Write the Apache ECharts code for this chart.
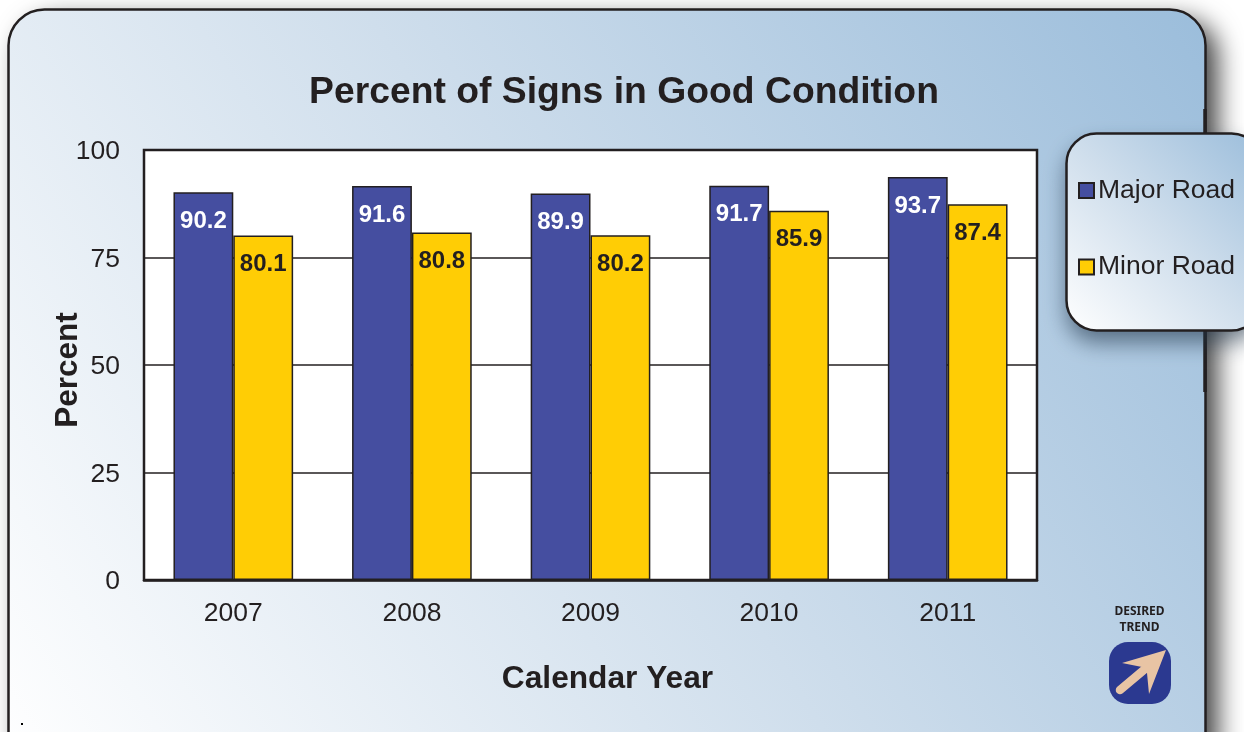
<!DOCTYPE html>
<html><head><meta charset="utf-8">
<style>html,body{margin:0;padding:0;background:#fff;overflow:hidden}#c{width:1244px;height:732px}</style>
<script src="https://cdn.jsdelivr.net/npm/echarts@6/dist/echarts.min.js"></script>
</head><body><div id="c"></div>
<script>
const years = ['2007','2008','2009','2010','2011'];
const majorRoad = [90.2,91.6,89.9,91.7,93.7];
const minorRoad = [80.1,80.8,80.2,85.9,87.4];
const yTicks = {min:0,max:100,interval:25};
const INK = '#231f20', FONT = '"Liberation Sans",Arial,sans-serif';
const sky = () => ({type:'linear',x:0,y:1,x2:1,y2:0,colorStops:[{offset:0,color:'#ffffff'},{offset:.5,color:'#cfdeec'},{offset:1,color:'#9bbddb'}]});
const chart = echarts.init(document.getElementById('c'),null,{renderer:'canvas'});
function barSeries(name,data,color,labelColor){
  return {type:'bar',name,data,barWidth:'33.5%',barGap:'0%',
    itemStyle:{color,borderColor:INK,borderWidth:1.5},
    label:{show:true,position:'insideTop',distance:17,color:labelColor,fontFamily:FONT,fontWeight:'bold',fontSize:24,formatter:p=>p.value.toFixed(1)}};
}
chart.setOption({
  animation:false,
  graphic:{elements:[
    {type:'rect',z:-11,shape:{x:8.5,y:9.5,width:1197,height:760,r:36},
     style:{fill:'#777',shadowBlur:26,shadowOffsetX:12,shadowOffsetY:10,shadowColor:'rgba(0,0,0,0.75)'}},
    {type:'rect',z:-10,shape:{x:8.5,y:9.5,width:1197,height:760,r:36},
     style:{fill:sky(),stroke:INK,lineWidth:2.5}},
    {type:'line',z:-9,shape:{x1:1205,y1:109,x2:1205,y2:392},style:{stroke:INK,lineWidth:3.5}},
    {type:'rect',z:-8.5,shape:{x:1066.5,y:133.5,width:195,height:197,r:30},
     style:{fill:'#777',shadowBlur:22,shadowOffsetX:0,shadowOffsetY:12,shadowColor:'rgba(30,50,70,0.6)'}},
    {type:'rect',z:-8,shape:{x:1066.5,y:133.5,width:195,height:197,r:30},
     style:{fill:sky(),stroke:INK,lineWidth:2.5}},
    {type:'rect',z:-7,shape:{x:21,y:723,width:2,height:2},style:{fill:'#000'}},
    {type:'text',z:-7,style:{x:1139.5,y:612,text:'DESIRED',align:'center',verticalAlign:'middle',fontFamily:'"Noto Sans",sans-serif',fontWeight:'bold',fontSize:12,fill:INK}},
    {type:'text',z:-7,style:{x:1139.5,y:628,text:'TREND',align:'center',verticalAlign:'middle',fontFamily:'"Noto Sans",sans-serif',fontWeight:'bold',fontSize:12,fill:INK}},
    {type:'rect',z:-7,shape:{x:1109,y:642,width:62,height:62,r:19},style:{fill:'#2b3990'}},
    {type:'line',z:-6,shape:{x1:1120,y1:690,x2:1145,y2:669},style:{stroke:'#e8c4a4',lineWidth:8.5,lineCap:'round'}},
    {type:'polygon',z:-6,shape:{points:[[1166,650],[1122,663],[1142,667],[1147,673],[1149,694]]},style:{fill:'#e8c4a4'}}
  ]},
  title:{text:'Percent of Signs in Good Condition',left:619,top:88,textAlign:'center',textVerticalAlign:'middle',
    textStyle:{fontFamily:FONT,fontWeight:'bold',fontSize:37.3,color:INK}},
  legend:{left:1073,top:172,orient:'vertical',itemWidth:15,itemHeight:15,itemGap:49.5,icon:'rect',selectedMode:false,
    textStyle:{fontFamily:FONT,fontSize:26.5,color:INK,padding:[0,0,0,-1]},data:['Major Road','Minor Road']},
  grid:{left:144,top:150,width:893,height:430,show:true,backgroundColor:'#fff',borderColor:INK,borderWidth:2.5,containLabel:false},
  xAxis:{type:'category',data:years,boundaryGap:true,
    name:'Calendar Year',nameLocation:'middle',nameGap:99,nameMoveOverlap:false,
    nameTextStyle:{fontFamily:FONT,fontWeight:'bold',fontSize:31.7,color:INK,padding:[0,0,0,34],verticalAlign:'middle'},
    axisLine:{lineStyle:{color:INK,width:2.5}},axisTick:{show:false},splitLine:{show:false},
    axisLabel:{margin:20,fontFamily:FONT,fontSize:26.5,color:INK}},
  yAxis:{type:'value',min:yTicks.min,max:yTicks.max,interval:yTicks.interval,
    name:'Percent',nameLocation:'middle',nameGap:76,nameMoveOverlap:false,
    nameTextStyle:{fontFamily:FONT,fontWeight:'bold',fontSize:31.5,color:INK,padding:[0,10,0,0],verticalAlign:'middle'},
    axisLine:{show:false},axisTick:{show:false},
    splitLine:{show:true,lineStyle:{color:INK,width:1.5}},
    axisLabel:{margin:24,fontFamily:FONT,fontSize:26.5,color:INK,verticalAlign:'top',lineHeight:4}},
  series:[barSeries('Major Road',majorRoad,'#454ea0','#ffffff'),barSeries('Minor Road',minorRoad,'#ffcd05',INK)]
});
</script></body></html>
